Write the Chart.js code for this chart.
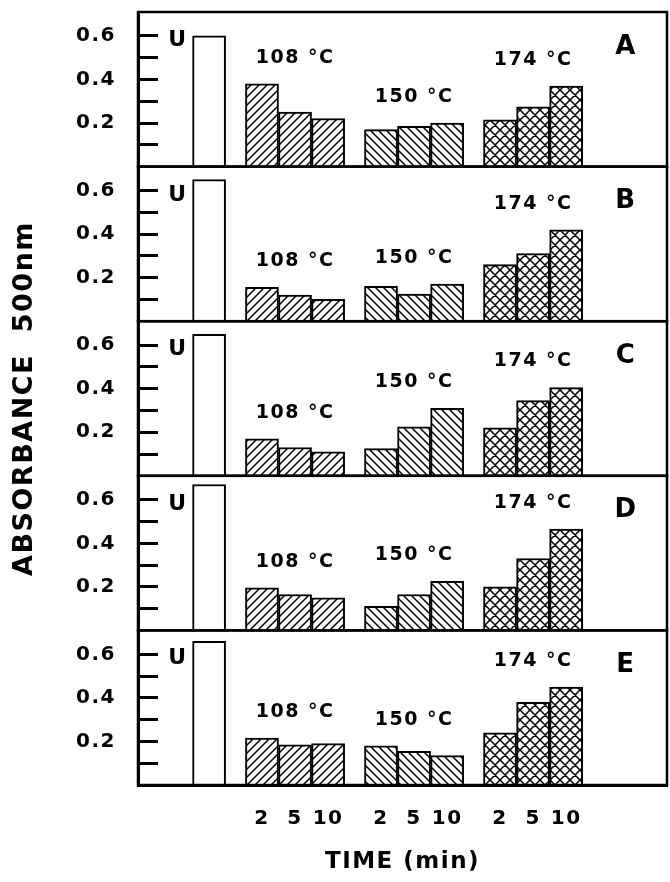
<!DOCTYPE html>
<html>
<head>
<meta charset="utf-8">
<script src="https://cdn.jsdelivr.net/npm/chart.js@4.4.1/dist/chart.umd.min.js"></script>
<style>
  body { margin: 0; background: #fff; }
  #wrap { position: relative; width: 670px; height: 882px; }
</style>
</head>
<body>
<div id="wrap"><canvas id="chart" width="670" height="882"></canvas></div>
<script>
// panels A..E, each: unheated control + three temperatures x three heating times
const panels = ['A', 'B', 'C', 'D', 'E'];
const temps = ['108 °C', '150 °C', '174 °C'];
const times = ['2', '5', '10'];
const yLabels = ['0.2', '0.4', '0.6'];

const unheated = [0.60, 0.65, 0.65, 0.67, 0.66];
const at108 = [
  [0.38, 0.25, 0.22],
  [0.155, 0.12, 0.10],
  [0.17, 0.13, 0.11],
  [0.195, 0.165, 0.15],
  [0.215, 0.185, 0.19]
];
const at150 = [
  [0.17, 0.185, 0.20],
  [0.16, 0.125, 0.17],
  [0.125, 0.225, 0.31],
  [0.11, 0.165, 0.225],
  [0.18, 0.155, 0.135]
];
const at174 = [
  [0.215, 0.275, 0.37],
  [0.26, 0.31, 0.42],
  [0.22, 0.345, 0.405],
  [0.20, 0.33, 0.465],
  [0.24, 0.38, 0.45]
];

Chart.defaults.font.family = '"DejaVu Sans", sans-serif';
Chart.defaults.color = '#000';

// hatch fills
function hatch(kind, size) {
  const c = document.createElement('canvas');
  c.width = c.height = size;
  const g = c.getContext('2d');
  g.fillStyle = '#fff';
  g.fillRect(0, 0, size, size);
  g.strokeStyle = '#000';
  g.lineWidth = 1.5;
  g.beginPath();
  if (kind === '/' || kind === 'x') {
    g.moveTo(-1, size + 1); g.lineTo(size + 1, -1);
    g.moveTo(-1, 1); g.lineTo(1, -1);
    g.moveTo(size - 1, size + 1); g.lineTo(size + 1, size - 1);
  }
  if (kind === '\\' || kind === 'x') {
    g.moveTo(-1, -1); g.lineTo(size + 1, size + 1);
    g.moveTo(size - 1, -1); g.lineTo(size + 1, 1);
    g.moveTo(-1, size - 1); g.lineTo(1, size + 1);
  }
  g.stroke();
  return g.createPattern(c, 'repeat');
}
const fills = [hatch('/', 8), hatch('\\', 8), hatch('x', 10)];

// bar centres along x, in bar widths (groups separated by a small gap)
const centers = [];
let pos = 1.65;
[1, times.length, times.length, times.length].forEach(n => {
  for (let i = 0; i < n; i++) centers.push(pos + i + 0.5);
  pos += n + 0.6;
});
const tickCenters = centers.slice(1);

const barColors = ['#fff'].concat(...temps.map((t, k) => times.map(() => fills[k])));

const datasets = panels.map((name, p) => {
  const vals = [unheated[p], ...at108[p], ...at150[p], ...at174[p]];
  return {
    label: name,
    yAxisID: 'y' + p,
    data: vals.map((v, i) => ({ x: centers[i], y: v })),
    backgroundColor: barColors,
    borderColor: '#000',
    borderWidth: 2,
    grouped: false,
    barPercentage: 1,
    categoryPercentage: 1
  };
});

const scales = {
  x: {
    type: 'linear',
    min: 0,
    max: 16,
    offset: false,
    afterBuildTicks: s => { s.ticks = tickCenters.map(v => ({ value: v })); },
    afterFit: s => { s.height = 97; },
    ticks: {
      autoSkip: false,
      maxRotation: 0,
      padding: 14,
      font: { size: 20, weight: 'bold' },
      callback: (v, i) => times[i % times.length]
    },
    grid: { display: false, offset: false },
    border: { display: true, color: '#000', width: 3 },
    title: {
      display: true,
      text: 'TIME (min)',
      font: { size: 23, weight: 'bold' },
      padding: { top: 0, bottom: 6 }
    }
  }
};
// stacked axes are laid out bottom-up, so declare panel E first
for (let p = panels.length - 1; p >= 0; p--) {
  scales['y' + p] = {
    type: 'linear',
    position: 'left',
    stack: 'panels',
    stackWeight: 1,
    min: 0,
    max: 0.71,
    afterBuildTicks: s => { s.ticks = [0.1, 0.2, 0.3, 0.4, 0.5, 0.6].map(v => ({ value: v })); },
    afterFit: s => { s.width = 138; s.paddingTop = 0; s.paddingBottom = 0; },
    ticks: {
      autoSkip: false,
      padding: 42,
      font: { size: 20, weight: 'bold' },
      callback: v => yLabels.includes(v.toFixed(1)) ? v.toFixed(1) : ''
    },
    grid: {
      drawOnChartArea: false,
      drawTicks: true,
      tickLength: -20,
      tickWidth: 3,
      tickColor: '#000'
    },
    border: { display: true, color: '#000', width: 3 },
    title: {
      display: p === 2,
      text: 'ABSORBANCE  500nm',
      font: { size: 27, weight: 'bold' },
      padding: { top: 9, bottom: 0 }
    }
  };
}

const spacing = {
  id: 'spacing',
  beforeDraw(chart) { chart.ctx.letterSpacing = '1.5px'; }
};

const frame = {
  id: 'frame',
  afterDatasetsDraw(chart) {
    const ctx = chart.ctx, area = chart.chartArea;
    ctx.save();
    ctx.strokeStyle = '#000';
    ctx.lineWidth = 2.5;
    panels.forEach((name, p) => {
      const ys = chart.scales['y' + p];
      ctx.strokeRect(area.left, ys.top, area.right - area.left, ys.bottom - ys.top);
    });
    ctx.restore();
  }
};

const notes = {
  id: 'notes',
  afterDraw(chart) {
    const ctx = chart.ctx, xs = chart.scales.x;
    ctx.save();
    ctx.fillStyle = '#000';
    ctx.textBaseline = 'middle';
    panels.forEach((name, p) => {
      const ys = chart.scales['y' + p];
      ctx.font = 'bold 22px "DejaVu Sans"';
      ctx.textAlign = 'right';
      ctx.fillText('U', xs.getPixelForValue(centers[0] - 0.5) - 5, ys.getPixelForValue(0.58));

      ctx.font = 'bold 19px "DejaVu Sans"';
      ctx.textAlign = 'center';
      [at108[p], at150[p], at174[p]].forEach((vals, k) => {
        const mid = centers[1 + k * times.length + 1];
        ctx.fillText(temps[k], xs.getPixelForValue(mid), ys.getPixelForValue(Math.max(...vals) + 0.12));
      });

      ctx.font = 'bold 26px "DejaVu Sans"';
      ctx.fillText(name, xs.getPixelForValue(14.76), ys.getPixelForValue(0.55));
    });
    ctx.restore();
  }
};

new Chart(document.getElementById('chart'), {
  type: 'bar',
  data: { datasets: datasets },
  options: {
    responsive: false,
    animation: false,
    devicePixelRatio: 1,
    layout: { padding: { top: 12, right: 3, left: 0, bottom: 0 } },
    plugins: { legend: { display: false }, tooltip: { enabled: false } },
    scales: scales
  },
  plugins: [spacing, frame, notes]
});
</script>
</body>
</html>
